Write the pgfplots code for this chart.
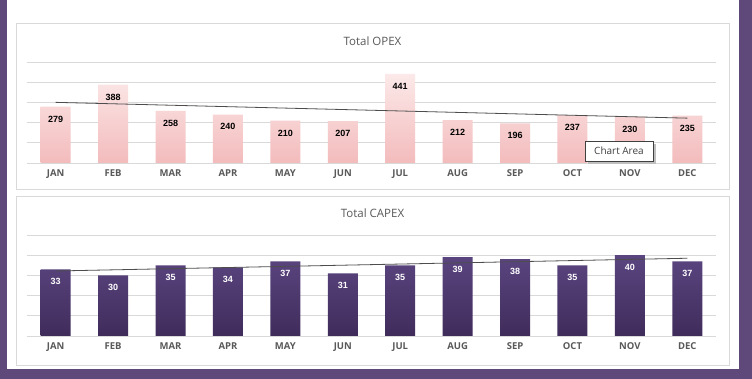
\documentclass[border=0pt]{standalone}
\usepackage{pgfplots}
\pgfplotsset{compat=1.18}
\usepackage{fontspec}
\setmainfont{Open Sans}
\newfontfamily\lbl{Liberation Sans}
\definecolor{bgpurple}{RGB}{94,73,122}
\definecolor{boxgray}{HTML}{D9D9D9}
\definecolor{gridgray}{HTML}{D9D9D9}
\definecolor{labelgray}{HTML}{595959}
\definecolor{opextop}{HTML}{FCE9E9}
\definecolor{opexbot}{HTML}{F3BBBC}
\definecolor{capextop}{HTML}{5B4580}
\definecolor{capexbot}{HTML}{402C5B}
\definecolor{trendgray}{HTML}{4D4D4D}
\definecolor{tipgray}{HTML}{404040}

\pgfplotstableread{
x y
0 279
1 388
2 258
3 240
4 210
5 207
6 441
7 212
8 196
9 237
10 230
11 235
}\opexdata
\pgfplotstableread{
x y
0 33
1 30
2 35
3 34
4 37
5 31
6 35
7 39
8 38
9 35
10 40
11 37
}\capexdata

\pgfplotsset{monthaxis/.style={
  scale only axis, width=689pt, height=101pt,
  anchor=south west,
  xmin=-0.5, xmax=11.5, ymin=0,
  axis line style={draw=none},
  tick style={draw=none},
  ymajorgrids, grid style={gridgray, line width=0.8pt},
  yticklabels={},
  xtick={0,...,11},
  xticklabels={JAN,FEB,MAR,APR,MAY,JUN,JUL,AUG,SEP,OCT,NOV,DEC},
  x tick label style={font=\bfseries\fontsize{9.5}{11}\selectfont, text=labelgray, yshift=-3pt},
  /pgf/number format/assume math mode=true,
}}

\begin{document}
\begin{tikzpicture}[x=1pt,y=1pt]
\fill[bgpurple] (0,0) rectangle (752,379);
\fill[white] (7,10) rectangle (739,379);
\draw[boxgray, line width=0.8pt] (16,190) rectangle (729,356);
\draw[boxgray, line width=0.8pt] (16,14) rectangle (729,183);

\node[font=\fontsize{11.5}{13}\selectfont, text=labelgray] at (372.5,338) {Total OPEX};
\node[font=\fontsize{11.5}{13}\selectfont, text=labelgray] at (372.5,166) {Total CAPEX};

\begin{axis}[monthaxis, at={(27pt,216pt)}, ymax=500, ytick={0,100,...,500}]
\addplot[ybar, bar width=30pt, draw=none, top color=opextop, bottom color=opexbot] table[x=x,y=y] {\opexdata};
\addplot[trendgray, line width=0.8pt, mark=none] coordinates {(0,300.2) (11,222.0)};
\addplot[draw=none, mark=none, nodes near coords,
  every node near coord/.append style={font=\lbl\bfseries\fontsize{9}{10}\selectfont, text=black, anchor=north, yshift=-9pt, inner sep=0pt}]
  table[x=x,y=y] {\opexdata};
\end{axis}

\begin{axis}[monthaxis, at={(27pt,43pt)}, ymax=50, ytick={0,10,...,50}]
\addplot[ybar, bar width=30pt, draw=none, top color=capextop, bottom color=capexbot] table[x=x,y=y] {\capexdata};
\addplot[trendgray, line width=0.8pt, mark=none] coordinates {(0,32.18) (11,38.49)};
\addplot[draw=none, mark=none, nodes near coords,
  every node near coord/.append style={font=\lbl\bfseries\fontsize{9}{10}\selectfont, text=white, anchor=north, yshift=-9pt, inner sep=0pt}]
  table[x=x,y=y] {\capexdata};
\end{axis}

\fill[gray!50] (588,215) rectangle (656,235);
\node[draw=tipgray, line width=0.6pt, fill=white, minimum width=68pt, minimum height=20pt, inner sep=0pt,
  font=\fontsize{10}{12}\selectfont, text=tipgray] at (619,228) {Chart Area};
\end{tikzpicture}
\end{document}
